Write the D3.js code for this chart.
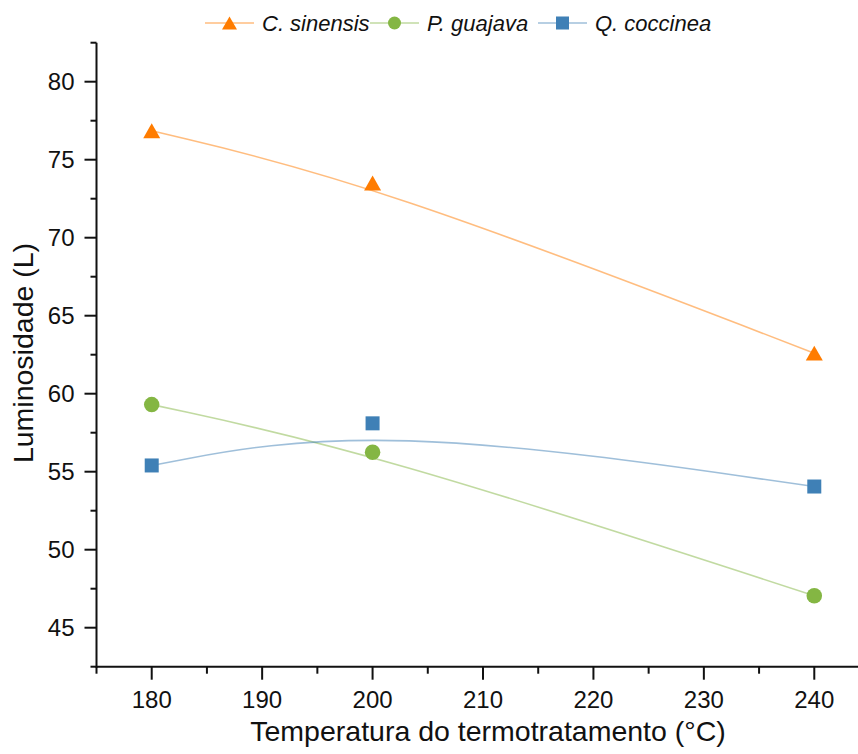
<!DOCTYPE html>
<html>
<head>
<meta charset="utf-8">
<script src="https://cdn.jsdelivr.net/npm/d3@7"></script>
<style>
  body { margin: 0; background: #fff; }
  svg text { font-family: "Liberation Sans", Arial, sans-serif; fill: #111; }
</style>
</head>
<body>
<div id="chart"></div>
<script>
// Data
var temperatures = [180, 200, 240];
var sinensis = [76.85, 73.5, 62.6];
var guajava = [59.3, 56.25, 47.05];
var coccinea = [55.4, 58.1, 54.05];
var xTicks = [180, 190, 200, 210, 220, 230, 240];
var yTicks = [45, 50, 55, 60, 65, 70, 75, 80];

var series = [
  {name: "C. sinensis", values: sinensis, color: "#ff7c00", symbol: "triangle"},
  {name: "P. guajava", values: guajava, color: "#84b643", symbol: "circle"},
  {name: "Q. coccinea", values: coccinea, color: "#3f80b6", symbol: "square"}
];

var width = 858, height = 754;

// scales
var x = d3.scaleLinear().domain([175, 245]).range([96.5, 869.5]);
var y = d3.scaleLinear().domain([42.5, 82.5]).range([666.7, 42.7]);

var svg = d3.select("#chart").append("svg")
    .attr("width", width)
    .attr("height", height);

// draw a marker at cx, cy
function marker(g, type, cx, cy, size, color) {
  if (type === "triangle") {
    var w = size, h = size * 0.88;
    g.append("path")
      .attr("d", "M" + cx + "," + (cy - h / 2) + "L" + (cx + w / 2) + "," + (cy + h / 2) +
        "L" + (cx - w / 2) + "," + (cy + h / 2) + "Z")
      .attr("fill", color);
  } else if (type === "circle") {
    g.append("circle").attr("cx", cx).attr("cy", cy).attr("r", size / 2).attr("fill", color);
  } else {
    g.append("rect").attr("x", cx - size / 2).attr("y", cy - size / 2)
      .attr("width", size).attr("height", size).attr("fill", color);
  }
}

var line = d3.line()
    .x(function(d) { return x(d.t); })
    .y(function(d) { return y(d.v); })
    .curve(d3.curveBasis);

// lines first
series.forEach(function(s) {
  var pts = temperatures.map(function(t, i) { return {t: t, v: s.values[i]}; });
  svg.append("path")
    .datum(pts)
    .attr("d", line)
    .attr("fill", "none")
    .attr("stroke", s.color)
    .attr("stroke-opacity", 0.5)
    .attr("stroke-width", 1.6);
});

// then markers
var markerSize = {triangle: 17, circle: 15.5, square: 14};
series.forEach(function(s) {
  var g = svg.append("g");
  temperatures.forEach(function(t, i) {
    marker(g, s.symbol, x(t), y(s.values[i]), markerSize[s.symbol], s.color);
  });
});

// X axis
var xAxis = svg.append("g").attr("transform", "translate(0,666.7)");
xAxis.append("line").attr("x1", 96.5).attr("x2", width).attr("stroke", "#111").attr("stroke-width", 2);
d3.range(175, 246, 5).forEach(function(v) {
  var major = xTicks.indexOf(v) >= 0;
  xAxis.append("line")
    .attr("x1", x(v)).attr("x2", x(v))
    .attr("y1", 0).attr("y2", major ? 13 : 7)
    .attr("stroke", "#111").attr("stroke-width", 2);
});
xAxis.selectAll("text.tick")
  .data(xTicks).enter().append("text")
  .attr("x", function(d) { return x(d); })
  .attr("y", 41)
  .attr("text-anchor", "middle")
  .style("font-size", "24px")
  .text(function(d) { return d; });

// Y axis
var yAxis = svg.append("g").attr("transform", "translate(96.5,0)");
yAxis.append("line").attr("y1", 42.7).attr("y2", 667.7).attr("stroke", "#111").attr("stroke-width", 2);
d3.range(42.5, 82.6, 2.5).forEach(function(v) {
  var major = yTicks.indexOf(v) >= 0;
  yAxis.append("line")
    .attr("x1", major ? -12 : -6).attr("x2", 0)
    .attr("y1", y(v)).attr("y2", y(v))
    .attr("stroke", "#111").attr("stroke-width", 2);
});
yAxis.selectAll("text.tick")
  .data(yTicks).enter().append("text")
  .attr("x", -22)
  .attr("y", function(d) { return y(d) + 8.5; })
  .attr("text-anchor", "end")
  .style("font-size", "24px")
  .text(function(d) { return d; });

// axis titles
svg.append("text")
  .attr("x", 488).attr("y", 741)
  .attr("text-anchor", "middle")
  .style("font-size", "28.5px")
  .text("Temperatura do termotratamento (°C)");

svg.append("text")
  .attr("transform", "translate(33,353) rotate(-90)")
  .attr("text-anchor", "middle")
  .style("font-size", "28.5px")
  .text("Luminosidade (L)");

// legend
var legendX = [205, 370, 538];
var legendMark = {triangle: 15, circle: 13, square: 13};
series.forEach(function(s, i) {
  var g = svg.append("g");
  var x0 = legendX[i];
  g.append("line")
    .attr("x1", x0).attr("x2", x0 + 49)
    .attr("y1", 23).attr("y2", 23)
    .attr("stroke", s.color).attr("stroke-opacity", 0.5).attr("stroke-width", 1.6);
  marker(g, s.symbol, x0 + 24.5, 23, legendMark[s.symbol], s.color);
  g.append("text")
    .attr("x", x0 + 57).attr("y", 31)
    .style("font-size", "22px")
    .style("font-style", "italic")
    .text(s.name);
});
</script>
</body>
</html>
